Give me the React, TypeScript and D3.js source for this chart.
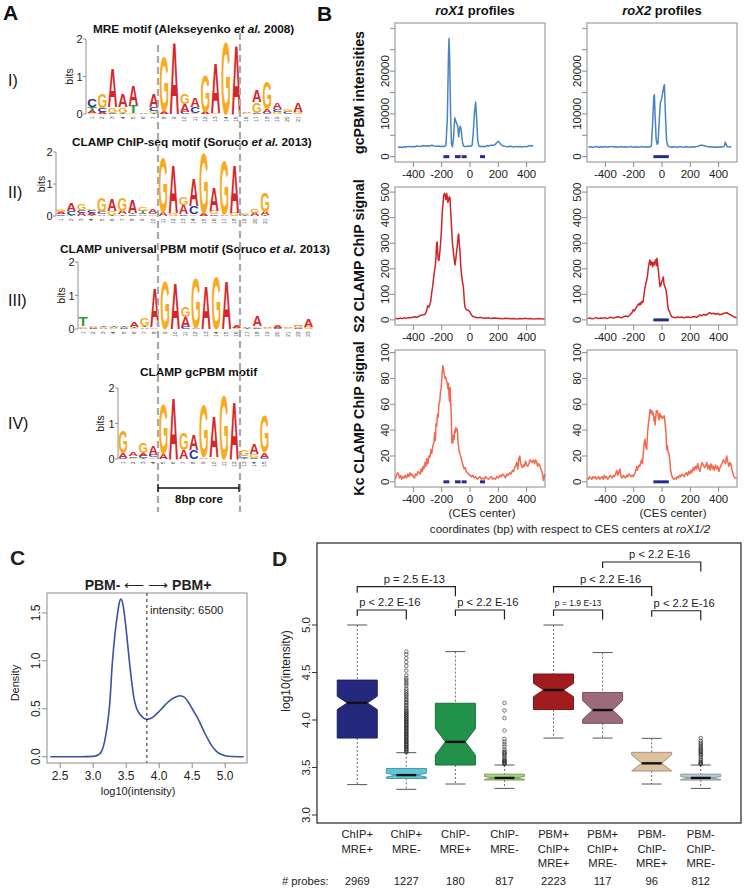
import React from "react";
import * as d3 from "d3";

const FONT = "'Liberation Sans', Arial, Helvetica, sans-serif";
const CAP = 0.716;

type Stack = [string, number][];

// ---------------- Panel A: sequence logos (letter, bits) bottom -> top ----------------
const mreMotif: Stack[] = [
  [["G", 0.04], ["A", 0.05], ["T", 0.1], ["C", 0.2]],
  [["A", 0.05], ["C", 0.1], ["G", 0.4]],
  [["C", 0.03], ["G", 0.15], ["A", 1.05]],
  [["T", 0.03], ["G", 0.15], ["A", 0.35]],
  [["G", 0.04], ["T", 0.2], ["A", 0.53]],
  [["A", 0.02]],
  [["T", 0.03], ["G", 0.06], ["C", 0.1], ["A", 0.36]],
  [["A", 0.08], ["G", 1.49]],
  [["A", 1.93]],
  [["C", 0.05], ["A", 0.22], ["G", 0.28]],
  [["G", 0.04], ["C", 0.16], ["A", 0.26]],
  [["A", 0.05], ["G", 0.99]],
  [["G", 0.04], ["A", 1.35]],
  [["G", 1.93]],
  [["A", 1.89]],
  [["G", 0.03], ["A", 0.04]],
  [["C", 0.04], ["G", 0.27], ["A", 0.32]],
  [["C", 0.04], ["A", 0.1], ["G", 0.75]],
  [["G", 0.05], ["C", 0.08], ["A", 0.16]],
  [["C", 0.05], ["G", 0.08]],
  [["G", 0.06], ["A", 0.25]],
];

const chipMotif: Stack[] = [
  [["C", 0.05], ["A", 0.08], ["G", 0.07]],
  [["T", 0.03], ["C", 0.12], ["A", 0.25]],
  [["A", 0.1], ["C", 0.08], ["G", 0.22]],
  [["T", 0.04], ["A", 0.06], ["C", 0.08], ["G", 0.05]],
  [["A", 0.05], ["C", 0.08], ["G", 0.47]],
  [["T", 0.04], ["G", 0.12], ["A", 0.38]],
  [["T", 0.05], ["A", 0.1], ["G", 0.4]],
  [["C", 0.05], ["T", 0.05], ["A", 0.4]],
  [["A", 0.05], ["C", 0.05], ["T", 0.06], ["G", 0.12]],
  [["G", 0.05], ["C", 0.04], ["A", 0.1]],
  [["A", 0.12], ["G", 1.75]],
  [["G", 0.08], ["A", 1.55]],
  [["C", 0.05], ["A", 0.3], ["G", 0.25]],
  [["G", 0.05], ["C", 0.25], ["A", 0.85]],
  [["A", 0.08], ["G", 1.9]],
  [["C", 0.05], ["G", 0.12], ["A", 0.75]],
  [["A", 0.05], ["G", 1.7]],
  [["G", 0.1], ["A", 1.55]],
  [["T", 0.03], ["A", 0.04], ["G", 0.05]],
  [["A", 0.1], ["G", 0.12]],
  [["T", 0.02], ["A", 0.12], ["G", 0.6]],
];

const upbmMotif: Stack[] = [
  [["A", 0.04], ["G", 0.04], ["T", 0.28]],
  [["C", 0.03], ["A", 0.04], ["G", 0.03]],
  [["A", 0.03], ["G", 0.03], ["T", 0.03]],
  [["G", 0.03], ["A", 0.03], ["T", 0.05]],
  [["C", 0.03], ["A", 0.04], ["T", 0.04]],
  [["G", 0.03], ["T", 0.04], ["A", 0.17]],
  [["A", 0.05], ["T", 0.04], ["G", 0.22]],
  [["G", 0.05], ["A", 1.2]],
  [["G", 1.45]],
  [["A", 1.4]],
  [["C", 0.06], ["A", 0.3], ["G", 0.3]],
  [["A", 0.04], ["G", 1.5]],
  [["A", 1.3]],
  [["G", 1.58]],
  [["A", 1.46]],
  [["G", 0.04], ["A", 0.06]],
  [["T", 0.03], ["A", 0.04]],
  [["C", 0.04], ["G", 0.04], ["A", 0.3]],
  [["G", 0.03], ["A", 0.03]],
  [["C", 0.03], ["A", 0.06], ["G", 0.03]],
  [["G", 0.03], ["A", 0.04]],
  [["C", 0.04], ["G", 0.06], ["A", 0.04]],
  [["G", 0.06], ["A", 0.25]],
];

const gcpbmMotif: Stack[] = [
  [["C", 0.03], ["A", 0.15], ["G", 0.62]],
  [["G", 0.04], ["C", 0.04], ["A", 0.12]],
  [["T", 0.03], ["C", 0.06], ["A", 0.08], ["G", 0.28]],
  [["G", 0.05], ["C", 0.06], ["A", 0.26]],
  [["A", 0.15], ["G", 1.42]],
  [["A", 1.75]],
  [["A", 0.25], ["G", 0.5]],
  [["C", 0.25], ["A", 0.45]],
  [["A", 0.05], ["G", 1.5]],
  [["G", 0.05], ["A", 1.14]],
  [["G", 1.85]],
  [["A", 1.66]],
  [["T", 0.04], ["C", 0.05], ["G", 0.17]],
  [["C", 0.03], ["G", 0.12], ["A", 0.28]],
  [["C", 0.04], ["A", 0.15], ["G", 1.05]],
];

const letterColors: Record<string, string> = { A: "#d7262b", G: "#f7ab1e", C: "#27399a", T: "#2e9b4a" };

// ---------------- Panel B: profiles ----------------
const pbmRox1X = [-510, -495, -480, -465, -450, -435, -420, -405, -390, -375, -360, -345, -330, -315, -300, -285, -270, -255, -240, -225, -210, -195, -180, -170, -160, -152, -148, -143, -137, -131, -124, -116, -108, -100, -92, -86, -80, -74, -68, -62, -55, -48, -40, -25, -10, 5, 15, 22, 32, 40, 47, 54, 62, 75, 90, 105, 120, 135, 150, 165, 180, 190, 200, 210, 222, 235, 250, 265, 280, 295, 310, 325, 340, 355, 370, 385, 400, 415, 425, 435, 447];
const pbmRox1Y = [2200, 2250, 2150, 2300, 2250, 2400, 2300, 2350, 2300, 2500, 2400, 2450, 2600, 2450, 2550, 2500, 2650, 2500, 2400, 2500, 2350, 2450, 2400, 2600, 9000, 24000, 27600, 22000, 10000, 3000, 2300, 4500, 9100, 8300, 7600, 7000, 4600, 6500, 7100, 6200, 3800, 2600, 2400, 2350, 2500, 2400, 2700, 5000, 10500, 12700, 9000, 4000, 2500, 2350, 2450, 2300, 2600, 2500, 2700, 2600, 2900, 3300, 3600, 3200, 2700, 2500, 2400, 2300, 2450, 2350, 2250, 2400, 2300, 2350, 2250, 2400, 2300, 2500, 2600, 2450, 2600];

const pbmRox2X = [-520, -505, -490, -475, -460, -445, -430, -415, -400, -385, -370, -355, -340, -325, -310, -295, -280, -265, -250, -235, -220, -205, -190, -175, -160, -145, -130, -115, -100, -85, -75, -66, -58, -54, -48, -41, -34, -28, -20, -12, -5, 4, 12, 17, 24, 32, 40, 50, 65, 80, 95, 110, 125, 140, 155, 170, 185, 200, 215, 230, 245, 260, 275, 290, 305, 320, 335, 350, 365, 380, 395, 410, 425, 440, 447, 452, 460, 475, 490];
const pbmRox2Y = [2200, 2300, 2200, 2250, 2350, 2200, 2300, 2250, 2350, 2200, 2300, 2400, 2250, 2300, 2200, 2350, 2250, 2300, 2200, 2250, 2350, 2200, 2300, 2250, 2200, 2350, 2250, 2300, 2200, 2300, 2500, 8000, 14000, 14500, 9000, 4000, 2900, 3200, 8000, 12500, 13200, 14800, 16300, 16800, 10000, 4000, 2600, 2300, 2200, 2300, 2250, 2200, 2350, 2250, 2200, 2300, 2250, 2200, 2300, 2250, 2350, 2500, 2700, 2600, 2500, 2350, 2250, 2300, 2200, 2250, 2200, 2300, 2250, 2400, 3400, 3000, 2300, 2250, 2300];

const s2Rox1X = [-528, -510, -495, -480, -465, -450, -435, -420, -405, -390, -375, -360, -345, -330, -318, -310, -303, -297, -290, -283, -277, -271, -264, -257, -250, -245, -240, -236, -232, -228, -224, -220, -214, -208, -202, -196, -190, -185, -180, -175, -170, -165, -160, -156, -151, -146, -141, -136, -130, -124, -118, -112, -106, -100, -94, -88, -83, -80, -76, -70, -64, -58, -52, -47, -42, -37, -32, -26, -20, -14, -8, -3, 5, 12, 20, 30, 45, 60, 75, 90, 110, 130, 150, 170, 190, 210, 230, 250, 270, 290, 310, 330, 350, 370, 390, 410, 430, 450, 470, 490, 510, 528];
const s2Rox1Y = [5, 4, 7, 5, 8, 6, 9, 8, 10, 12, 10, 15, 18, 20, 22, 30, 45, 55, 50, 62, 75, 105, 130, 165, 195, 210, 250, 300, 305, 260, 235, 232, 260, 300, 350, 420, 460, 490, 495, 485, 470, 495, 480, 460, 470, 482, 475, 420, 360, 300, 270, 240, 215, 240, 270, 300, 330, 336, 300, 260, 200, 170, 145, 130, 90, 55, 45, 40, 38, 38, 35, 33, 25, 18, 13, 12, 9, 8, 10, 7, 6, 8, 5, 7, 6, 5, 4, 6, 5, 4, 5, 3, 5, 4, 6, 4, 5, 3, 4, 5, 3, 4];

const s2Rox2X = [-528, -510, -495, -480, -465, -450, -435, -420, -405, -390, -375, -360, -345, -330, -315, -300, -285, -270, -255, -240, -225, -210, -204, -195, -185, -175, -168, -160, -156, -150, -144, -138, -134, -128, -122, -115, -108, -102, -96, -90, -85, -80, -75, -70, -66, -62, -56, -50, -45, -40, -36, -30, -25, -20, -14, -8, -3, 4, 9, 14, 20, 24, 28, 34, 40, 45, 52, 58, 68, 80, 95, 110, 125, 140, 155, 170, 185, 200, 215, 230, 245, 258, 268, 280, 295, 310, 325, 339, 350, 365, 380, 395, 410, 425, 440, 457, 470, 485, 500, 515, 528];
const s2Rox2Y = [5, 8, 4, 6, 9, 5, 7, 6, 9, 5, 8, 10, 7, 9, 12, 10, 8, 13, 15, 12, 20, 30, 40, 35, 45, 55, 62, 58, 66, 60, 72, 68, 70, 95, 120, 140, 156, 175, 205, 225, 234, 215, 228, 222, 208, 225, 215, 228, 235, 212, 241, 215, 190, 160, 130, 135, 150, 155, 168, 140, 130, 125, 117, 95, 60, 40, 35, 25, 13, 10, 8, 12, 9, 11, 8, 10, 12, 9, 11, 13, 10, 15, 20, 16, 22, 18, 24, 28, 24, 26, 22, 25, 20, 23, 26, 28, 24, 20, 15, 10, 8];

const kcRox1X = [-528, -520, -512, -505, -498, -490, -482, -475, -466, -458, -448, -440, -432, -424, -416, -408, -400, -392, -385, -376, -368, -360, -352, -345, -338, -331, -325, -318, -312, -305, -298, -290, -283, -276, -270, -262, -255, -250, -245, -240, -235, -230, -225, -220, -214, -208, -204, -198, -192, -188, -183, -178, -172, -168, -162, -156, -152, -148, -144, -140, -136, -132, -128, -125, -121, -117, -112, -108, -104, -100, -96, -92, -88, -84, -78, -72, -66, -58, -50, -42, -34, -26, -18, -10, 0, 10, 20, 30, 40, 50, 60, 70, 80, 90, 100, 110, 120, 130, 140, 150, 160, 170, 180, 190, 200, 210, 220, 230, 240, 250, 260, 270, 280, 290, 300, 308, 316, 324, 330, 338, 345, 352, 358, 365, 372, 378, 385, 392, 400, 408, 416, 424, 432, 440, 448, 456, 464, 471, 478, 485, 492, 500, 508, 514, 518, 524, 528];
const kcRox1Y = [2, 5, 7, 6, 3, 5, 2, 4, 3, 5, 3, 6, 4, 7, 5, 6, 4, 3, 6, 5, 8, 7, 6, 10, 8, 12, 10, 15, 12, 18, 14, 20, 19, 25, 22, 28, 30, 38, 32, 45, 43, 52, 50, 60, 62, 70, 72, 82, 90, 88, 84, 80, 81, 79, 77, 72, 76, 66, 62, 73, 61, 50, 30, 34, 30, 36, 33, 40, 38, 42, 40, 41, 38, 30, 25, 22, 20, 16, 13, 10, 11, 8, 7, 6, 5, 4, 5, 3, 4, 2, 3, 4, 2, 3, 2, 4, 3, 2, 3, 4, 2, 3, 2, 4, 3, 5, 4, 6, 5, 3, 6, 5, 7, 6, 9, 8, 11, 13, 15, 10, 18, 20, 14, 12, 11, 13, 12, 16, 13, 12, 14, 17, 16, 15, 17, 14, 17, 15, 12, 14, 13, 10, 8, 5, 1, 3, 6];

const kcRox2X = [-528, -520, -512, -504, -496, -488, -480, -472, -464, -456, -448, -440, -432, -424, -416, -408, -400, -392, -384, -376, -368, -360, -352, -344, -336, -328, -320, -312, -304, -297, -290, -282, -274, -266, -258, -250, -242, -234, -226, -218, -210, -203, -195, -188, -182, -179, -174, -168, -162, -156, -150, -144, -138, -132, -126, -120, -114, -108, -102, -96, -90, -85, -80, -75, -70, -66, -61, -56, -52, -49, -44, -40, -36, -33, -28, -22, -16, -9, -3, 3, 9, 16, 22, 28, 33, 38, 43, 49, 54, 60, 68, 76, 84, 92, 100, 108, 116, 124, 132, 140, 148, 156, 164, 172, 180, 188, 196, 204, 212, 221, 228, 236, 244, 252, 260, 268, 276, 284, 292, 300, 308, 316, 324, 332, 340, 346, 351, 356, 362, 370, 378, 386, 394, 402, 410, 418, 426, 433, 440, 448, 457, 464, 472, 481, 488, 494, 500, 508, 516, 528];
const kcRox2Y = [3, 2, 4, 3, 2, 4, 3, 4, 2, 3, 4, 2, 3, 4, 2, 5, 3, 4, 2, 3, 5, 4, 3, 5, 4, 6, 9, 5, 8, 10, 4, 3, 5, 4, 3, 5, 4, 6, 5, 4, 5, 4, 6, 8, 10, 12, 9, 11, 13, 12, 15, 17, 14, 22, 30, 33, 27, 25, 38, 45, 50, 56, 55, 53, 55, 52, 53, 47, 50, 44, 50, 55, 54, 55, 52, 48, 53, 50, 51, 49, 50, 51, 45, 38, 25, 28, 23, 22, 18, 10, 5, 3, 2, 3, 2, 4, 3, 5, 4, 6, 5, 4, 6, 7, 5, 8, 6, 9, 7, 11, 9, 12, 10, 14, 10, 8, 12, 15, 13, 11, 12, 15, 10, 13, 9, 14, 13, 10, 12, 9, 13, 10, 12, 8, 11, 13, 15, 17, 16, 14, 20, 16, 12, 15, 13, 10, 7, 4, 3, 3];

const cesRox1 = [[-188, -146], [-106, -66], [-59, -24], [71, 106]];
const cesRox2 = [[-61, 48]];

const pbmTicks = [0, 5000, 10000, 15000, 20000, 25000, 30000];
const pbmTickLabels = [0, 10000, 20000];
const s2Ticks = [0, 100, 200, 300, 400, 500];
const kcTicks = [0, 20, 40, 60, 80, 100];
const profileXTicks = [-400, -200, 0, 200, 400];

// ---------------- Panel C: density ----------------
const densX = [2.35, 2.6, 2.8, 3.0, 3.08, 3.13, 3.17, 3.21, 3.25, 3.29, 3.33, 3.37, 3.4, 3.42, 3.44, 3.47, 3.5, 3.54, 3.58, 3.62, 3.66, 3.71, 3.76, 3.81, 3.86, 3.92, 3.98, 4.05, 4.12, 4.19, 4.26, 4.31, 4.35, 4.39, 4.44, 4.5, 4.56, 4.62, 4.68, 4.74, 4.8, 4.86, 4.92, 5.0, 5.1, 5.28];
const densY = [0, 0, 0, 0.003, 0.02, 0.06, 0.15, 0.31, 0.55, 0.98, 1.28, 1.5, 1.62, 1.645, 1.62, 1.5, 1.32, 1.05, 0.8, 0.6, 0.5, 0.44, 0.405, 0.39, 0.395, 0.42, 0.46, 0.51, 0.56, 0.6, 0.625, 0.635, 0.63, 0.615, 0.57, 0.5, 0.43, 0.35, 0.26, 0.18, 0.11, 0.06, 0.03, 0.01, 0.002, 0];
const densXTicks = [2.5, 3.0, 3.5, 4.0, 4.5, 5.0];
const densYTicks = [0, 0.5, 1.0, 1.5];
const thresholdLog = 3.813;

// ---------------- Panel D: boxplots ----------------
const boxCats = [["ChIP+", "MRE+"], ["ChIP+", "MRE-"], ["ChIP-", "MRE+"], ["ChIP-", "MRE-"], ["PBM+", "ChIP+", "MRE+"], ["PBM+", "ChIP+", "MRE-"], ["PBM-", "ChIP-", "MRE+"], ["PBM-", "ChIP-", "MRE-"]];
const boxProbes = [2969, 1227, 180, 817, 2223, 117, 96, 812];
const boxLow = [3.32, 3.27, 3.326, 3.28, 3.81, 3.81, 3.326, 3.28];
const boxQ1 = [3.81, 3.385, 3.526, 3.368, 4.11, 3.965, 3.463, 3.368];
const boxMed = [4.18, 3.42, 3.77, 3.39, 4.316, 4.105, 3.544, 3.39];
const boxQ3 = [4.42, 3.49, 4.176, 3.43, 4.484, 4.29, 3.66, 3.43];
const boxHigh = [5.0, 3.656, 4.72, 3.526, 5.0, 4.71, 3.807, 3.526];
const boxNotch = [0.07, 0.02, 0.14, 0.015, 0.07, 0.1, 0.09, 0.015];
const boxColors = ["#25297d", "#5ec8d8", "#22924a", "#a4d47f", "#a11c1f", "#9b6b7b", "#dcc0a0", "#b8cad0"];
const outliersBox2 = [3.66, 3.67, 3.685, 3.69, 3.7, 3.715, 3.72, 3.735, 3.74, 3.75, 3.765, 3.77, 3.78, 3.79, 3.8, 3.815, 3.82, 3.83, 3.845, 3.85, 3.86, 3.875, 3.88, 3.89, 3.905, 3.91, 3.925, 3.93, 3.945, 3.95, 3.96, 3.975, 3.98, 3.995, 4.0, 4.015, 4.02, 4.035, 4.04, 4.055, 4.06, 4.075, 4.08, 4.095, 4.1, 4.12, 4.13, 4.15, 4.16, 4.18, 4.19, 4.21, 4.22, 4.24, 4.26, 4.27, 4.29, 4.31, 4.33, 4.36, 4.38, 4.4, 4.42, 4.44, 4.47, 4.52, 4.57, 4.61, 4.65, 4.69, 4.72];
const outliersBox4 = [3.535, 3.545, 3.55, 3.56, 3.565, 3.575, 3.585, 3.6, 3.62, 3.635, 3.65, 3.655, 3.67, 3.69, 3.72, 3.745, 3.77, 3.8, 3.89, 4.02, 4.1, 4.18];
const outliersBox8 = [3.535, 3.54, 3.55, 3.56, 3.575, 3.59, 3.61, 3.63, 3.64, 3.655, 3.665, 3.675, 3.69, 3.7, 3.715, 3.73, 3.745, 3.76, 3.78, 3.81];
const boxOutliers = [[], outliersBox2, [], outliersBox4, [], [], [], outliersBox8];
const boxYTicks = [3.0, 3.5, 4.0, 4.5, 5.0];

const pFrom = [1, 3, 1, 5, 7, 5, 6];
const pTo = [2, 4, 3, 6, 8, 7, 8];
const pLevel = [5.158, 5.158, 5.403, 5.158, 5.15, 5.403, 5.663];
const pLabels = ["p < 2.2 E-16", "p < 2.2 E-16", "p = 2.5 E-13", "p = 1.9 E-13", "p < 2.2 E-16", "p < 2.2 E-16", "p < 2.2 E-16"];
const pSmall = [false, false, false, true, false, false, false];

// ---------------- components ----------------
function Logo(props: any) {
  const { cols, left, colW, base, bitPx, axisX, bitsX } = props;
  const xs = d3.scaleLinear().domain([0, cols.length]).range([left, left + cols.length * colW]);
  const ys = d3.scaleLinear().domain([0, 2]).range([base, base - 2 * bitPx]);
  const F = 20;
  const items: any[] = [];
  cols.forEach((col: Stack, i: number) => {
    let acc = 0;
    col.forEach(([ch, h], j) => {
      const yb = ys(acc);
      acc += h;
      const hp = yb - ys(acc);
      if (hp < 0.35) return;
      items.push(
        <text key={`l${i}-${j}`} x={0} y={0}
          transform={`translate(${xs(i) + colW * 0.03},${yb}) scale(1,${hp / (CAP * F)})`}
          fontSize={F} fontWeight="bold" fontFamily={FONT} textLength={colW * 0.94}
          lengthAdjust="spacingAndGlyphs" fill={letterColors[ch]}>{ch}</text>
      );
    });
    items.push(
      <text key={`n${i}`} transform={`translate(${xs(i + 0.5) + 1.6},${base + 2.5}) rotate(-90)`}
        fontSize={4.6} textAnchor="end" fill="#333" fontFamily={FONT}>{i + 1}</text>
    );
  });
  return (
    <g>
      <line x1={axisX} x2={axisX} y1={ys(0)} y2={ys(2)} stroke="#777" strokeWidth={0.8} />
      {[0, 1, 2].map((v) => (
        <g key={v}>
          <line x1={axisX - 3} x2={axisX} y1={ys(v)} y2={ys(v)} stroke="#777" strokeWidth={0.8} />
          <text x={axisX - 3.5} y={ys(v) + 4} textAnchor="end" fontSize={11} fontFamily={FONT} fill="#222">{v}</text>
        </g>
      ))}
      <text transform={`translate(${bitsX},${ys(1)}) rotate(-90)`} textAnchor="middle" fontSize={10.5} fontFamily={FONT} fill="#222">bits</text>
      {items}
    </g>
  );
}

function Profile(props: any) {
  const { xv, yv, frame, yDomain, yTicks, yLabels, color, bars } = props;
  const [l, t, r, b] = frame;
  const xs = d3.scaleLinear().domain([-530, 530]).range([l, r]);
  const ys = d3.scaleLinear().domain(yDomain).range([b, t]);
  const line = d3.line<number>().x((_d, i) => xs(xv[i])).y((d) => ys(d));
  const axisCol = "#8c8c8c";
  return (
    <g fontFamily={FONT}>
      <path d={line(yv) || ""} fill="none" stroke={color} strokeWidth={1.5} strokeLinejoin="round" />
      {bars.map((bb: number[], i: number) => (
        <line key={i} x1={xs(bb[0])} x2={xs(bb[1])} y1={ys(0)} y2={ys(0)} stroke="#2a2a86" strokeWidth={3} />
      ))}
      <rect x={l} y={t} width={r - l} height={b - t} fill="none" stroke={axisCol} strokeWidth={1} />
      {yTicks.map((v: number) => (
        <line key={v} x1={l - 5} x2={l} y1={ys(v)} y2={ys(v)} stroke={axisCol} />
      ))}
      {yLabels.map((v: number) => (
        <text key={v} transform={`translate(${l - 6},${ys(v)}) rotate(-90)`} textAnchor="middle" fontSize={11.5} fill="#222">{v}</text>
      ))}
      {profileXTicks.map((v) => (
        <g key={v}>
          <line x1={xs(v)} x2={xs(v)} y1={b} y2={b + 5} stroke={axisCol} />
          <text x={xs(v)} y={b + 16} textAnchor="middle" fontSize={11.5} fill="#222">{v}</text>
        </g>
      ))}
    </g>
  );
}

function PanelC() {
  const [l, t, r, b] = [47, 593, 247, 763];
  const xs = d3.scaleLinear().domain([2.3, 5.33]).range([l, r]);
  const ys = d3.scaleLinear().domain([-0.066, 1.708]).range([b, t]);
  const line = d3.line<number>().x((_d, i) => xs(densX[i])).y((d) => ys(d)).curve(d3.curveMonotoneX);
  const axisCol = "#8c8c8c";
  return (
    <g fontFamily={FONT} fill="#222">
      <text x={10} y={565} fontSize={21} fontWeight="bold">C</text>
      <text x={148} y={590} textAnchor="middle" fontSize={14} fontWeight="bold">
        PBM- <tspan fontWeight="normal">⟵ ⟶</tspan> PBM+
      </text>
      <path d={line(densY) || ""} fill="none" stroke="#3a52a4" strokeWidth={1.6} />
      <line x1={xs(thresholdLog)} x2={xs(thresholdLog)} y1={t} y2={b} stroke="#222" strokeDasharray="3,3" strokeWidth={1} />
      <text x={150} y={614} fontSize={11.4}>intensity: 6500</text>
      <rect x={l} y={t} width={r - l} height={b - t} fill="none" stroke={axisCol} />
      {densYTicks.map((v) => (
        <g key={v}>
          <line x1={l - 5} x2={l} y1={ys(v)} y2={ys(v)} stroke={axisCol} />
          <text transform={`translate(${l - 7},${ys(v)}) rotate(-90)`} textAnchor="middle" fontSize={12}>{v.toFixed(1)}</text>
        </g>
      ))}
      {densXTicks.map((v) => (
        <g key={v}>
          <line x1={xs(v)} x2={xs(v)} y1={b} y2={b + 5} stroke={axisCol} />
          <text x={xs(v)} y={b + 17} textAnchor="middle" fontSize={12}>{v.toFixed(1)}</text>
        </g>
      ))}
      <text x={138} y={795} textAnchor="middle" fontSize={11}>log10(intensity)</text>
      <text transform={`translate(19,683) rotate(-90)`} textAnchor="middle" fontSize={11}>Density</text>
    </g>
  );
}

function PanelD() {
  const [l, t, r, b] = [317, 543, 741, 823];
  const xs = d3.scaleLinear().domain([0.18, 8.82]).range([l, r]);
  const ys = d3.scaleLinear().domain([3 + (815 - 823) / 95, 3 + (815 - 543) / 95]).range([b, t]);
  const hw = 20;
  return (
    <g fontFamily={FONT} fill="#222">
      <text x={272} y={566} fontSize={21} fontWeight="bold">D</text>
      {boxCats.map((_c, i) => {
        const cx = xs(i + 1);
        const fill = boxColors[i];
        const border = d3.color(fill)!.darker(0.8).toString();
        const q1 = ys(boxQ1[i]), q3 = ys(boxQ3[i]), md = ys(boxMed[i]);
        const nU = ys(Math.min(boxMed[i] + boxNotch[i], boxQ3[i]));
        const nL = ys(Math.max(boxMed[i] - boxNotch[i], boxQ1[i]));
        const pts = [
          [cx - hw, q3], [cx + hw, q3], [cx + hw, nU], [cx + hw / 2, md], [cx + hw, nL],
          [cx + hw, q1], [cx - hw, q1], [cx - hw, nL], [cx - hw / 2, md], [cx - hw, nU],
        ];
        return (
          <g key={i}>
            <line x1={cx} x2={cx} y1={ys(boxHigh[i])} y2={q3} stroke="#444" strokeWidth={0.8} strokeDasharray="2,2" />
            <line x1={cx} x2={cx} y1={q1} y2={ys(boxLow[i])} stroke="#444" strokeWidth={0.8} strokeDasharray="2,2" />
            <line x1={cx - hw / 2} x2={cx + hw / 2} y1={ys(boxHigh[i])} y2={ys(boxHigh[i])} stroke="#555" strokeWidth={1} />
            <line x1={cx - hw / 2} x2={cx + hw / 2} y1={ys(boxLow[i])} y2={ys(boxLow[i])} stroke="#555" strokeWidth={1} />
            <polygon points={pts.map((p) => p.join(",")).join(" ")} fill={fill} stroke={border} strokeWidth={1} />
            <line x1={cx - hw / 2} x2={cx + hw / 2} y1={md} y2={md} stroke="#111" strokeWidth={2.4} />
            {boxOutliers[i].map((v: number, k: number) => (
              <circle key={k} cx={cx} cy={ys(v)} r={1.8} fill="none" stroke="#222" strokeWidth={0.6} />
            ))}
            {boxCats[i].map((s, k) => (
              <text key={k} x={cx} y={838 + k * 14.5} textAnchor="middle" fontSize={11.2}>{s}</text>
            ))}
            <text x={cx} y={885} textAnchor="middle" fontSize={11.2}>{boxProbes[i]}</text>
          </g>
        );
      })}
      <text x={282} y={885} fontSize={11.2}># probes:</text>
      {pFrom.map((a, k) => {
        const x1 = xs(a), x2 = xs(pTo[k]);
        const y = ys(pLevel[k]);
        return (
          <g key={k}>
            <path d={`M${x1},${y + 6}V${y}H${x2}V${y + 9.5}`} fill="none" stroke="#222" strokeWidth={1.2} />
            <text x={(x1 + x2) / 2 + (pSmall[k] ? 0 : 8)} y={y - 4} textAnchor="middle" fontSize={pSmall[k] ? 8.5 : 11.2}>{pLabels[k]}</text>
          </g>
        );
      })}
      <rect x={l} y={t} width={r - l} height={b - t} fill="none" stroke="#333" strokeWidth={1.3} />
      {boxYTicks.map((v) => (
        <g key={v}>
          <line x1={l - 5} x2={l} y1={ys(v)} y2={ys(v)} stroke="#333" />
          <text transform={`translate(${l - 7},${ys(v)}) rotate(-90)`} textAnchor="middle" fontSize={11.5}>{v.toFixed(1)}</text>
        </g>
      ))}
      <text transform={`translate(290,671) rotate(-90)`} textAnchor="middle" fontSize={12}>log10(intensity)</text>
    </g>
  );
}

export default function App() {
  const rows = [
    { t: 23, b: 162, dom: [-1250, 31250], ticks: pbmTicks, labels: pbmTickLabels, color: "#4a84c0", d1: [pbmRox1X, pbmRox1Y], d2: [pbmRox2X, pbmRox2Y], bars1: cesRox1, bars2: cesRox2, label: "gcPBM intensities" },
    { t: 187, b: 325, dom: [-20, 520], ticks: s2Ticks, labels: s2Ticks, color: "#cf2428", d1: [s2Rox1X, s2Rox1Y], d2: [s2Rox2X, s2Rox2Y], bars1: [], bars2: cesRox2, label: "S2 CLAMP ChIP signal" },
    { t: 350, b: 487, dom: [-4, 102], ticks: kcTicks, labels: kcTicks, color: "#f2694f", d1: [kcRox1X, kcRox1Y], d2: [kcRox2X, kcRox2Y], bars1: cesRox1, bars2: cesRox2, label: "Kc CLAMP ChIP signal" },
  ];
  const dash = { stroke: "#a9a9a9", strokeWidth: 2.2, strokeDasharray: "7,4" };
  return (
    <svg width={744} height={890} viewBox="0 0 744 890"
      style={{ position: "absolute", left: 0, top: 0, background: "#fff" }}
      fontFamily={FONT}>
      <rect x={0} y={0} width={744} height={890} fill="#fff" />
      {/* Panel A */}
      <g fill="#111">
        <text x={3} y={20} fontSize={21} fontWeight="bold">A</text>
        <text x={93} y={33} fontSize={11.8} fontWeight="bold">MRE motif  (Alekseyenko <tspan fontStyle="italic">et al.</tspan> 2008)</text>
        <text x={72} y={146} fontSize={11.8} fontWeight="bold">CLAMP ChIP-seq motif  (Soruco <tspan fontStyle="italic">et al.</tspan> 2013)</text>
        <text x={60} y={253} fontSize={11.8} fontWeight="bold">CLAMP universal PBM motif  (Soruco <tspan fontStyle="italic">et al.</tspan> 2013)</text>
        <text x={140} y={376} fontSize={11.8} fontWeight="bold">CLAMP gcPBM motif</text>
        <text x={8} y={86} fontSize={16}>I)</text>
        <text x={8} y={198} fontSize={16}>II)</text>
        <text x={8} y={306} fontSize={16}>III)</text>
        <text x={8} y={429} fontSize={16}>IV)</text>
      </g>
      <Logo cols={mreMotif} left={86.9} colW={10.3} base={114} bitPx={37.5} axisX={86} bitsX={73} />
      <Logo cols={chipMotif} left={56} colW={10.2} base={216} bitPx={32} axisX={56} bitsX={45} />
      <Logo cols={upbmMotif} left={78} colW={10.25} base={329} bitPx={33.5} axisX={78} bitsX={65} />
      <Logo cols={gcpbmMotif} left={118} colW={10.1} base={459} bitPx={35.5} axisX={118} bitsX={104} />
      <line x1={158} x2={158} y1={45} y2={512} {...dash} />
      <line x1={240} x2={240} y1={33} y2={512} {...dash} />
      <path d="M158,484V492M158,488H239M239,484V492" stroke="#111" strokeWidth={1.3} fill="none" />
      <text x={199} y={503} textAnchor="middle" fontSize={11.5} fontWeight="bold" fill="#111">8bp core</text>

      {/* Panel B */}
      <g fill="#111">
        <text x={317} y={21} fontSize={21} fontWeight="bold">B</text>
        <text x={475} y={15} textAnchor="middle" fontSize={13} fontWeight="bold"><tspan fontStyle="italic">roX1</tspan> profiles</text>
        <text x={662} y={15} textAnchor="middle" fontSize={13} fontWeight="bold"><tspan fontStyle="italic">roX2</tspan> profiles</text>
      </g>
      {rows.map((row, k) => (
        <g key={k}>
          <Profile xv={row.d1[0]} yv={row.d1[1]} frame={[395, row.t, 545, row.b]} yDomain={row.dom} yTicks={row.ticks} yLabels={row.labels} color={row.color} bars={row.bars1} />
          <Profile xv={row.d2[0]} yv={row.d2[1]} frame={[587, row.t, 737, row.b]} yDomain={row.dom} yTicks={row.ticks} yLabels={row.labels} color={row.color} bars={row.bars2} />
          <text transform={`translate(364,${(row.t + row.b) / 2}) rotate(-90)`} textAnchor="middle" fontSize={14.3} fontWeight="bold" fill="#111">{row.label}</text>
        </g>
      ))}
      <g fill="#222" fontSize={11.6}>
        <text x={482} y={517} textAnchor="middle">(CES center)</text>
        <text x={673} y={517} textAnchor="middle">(CES center)</text>
        <text x={570} y={533} textAnchor="middle">coordinates (bp) with respect to CES centers at <tspan fontStyle="italic">roX1/2</tspan></text>
      </g>

      <PanelC />
      <PanelD />
    </svg>
  );
}
